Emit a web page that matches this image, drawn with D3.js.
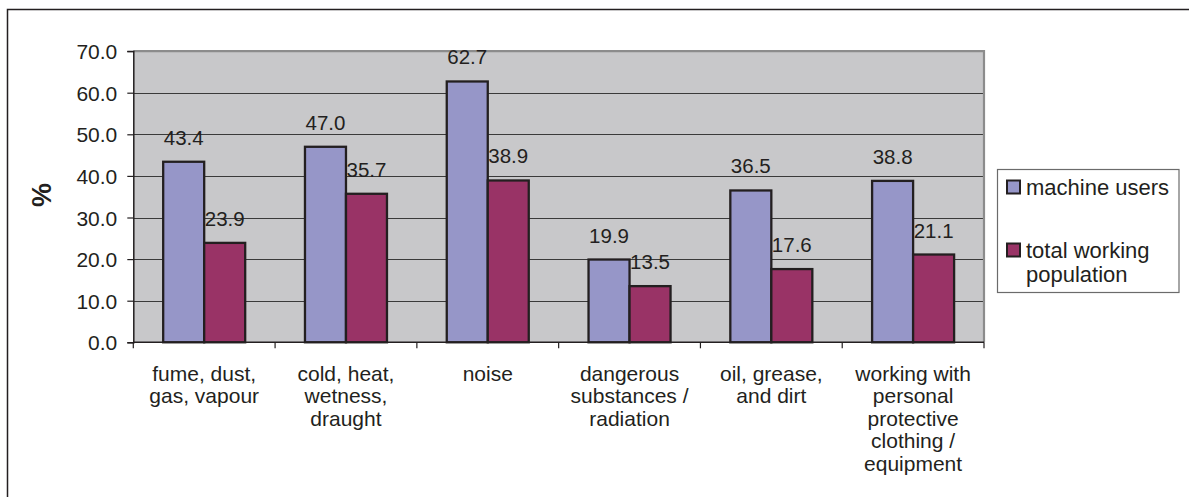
<!DOCTYPE html>
<html>
<head>
<meta charset="utf-8">
<script src="https://cdn.jsdelivr.net/npm/d3@7"></script>
<style>
  html, body { margin: 0; padding: 0; background: #fff; }
  svg { display: block; font-family: "Liberation Sans", Arial, sans-serif; }
</style>
</head>
<body>
<svg id="chart" width="1189" height="497"></svg>
<script>
const categories = [
  ["fume, dust,", "gas, vapour"],
  ["cold, heat,", "wetness,", "draught"],
  ["noise"],
  ["dangerous", "substances /", "radiation"],
  ["oil, grease,", "and dirt"],
  ["working with", "personal", "protective", "clothing /", "equipment"]
];
const seriesNames = ["machine users", "total working population"];
const legendLines = [["machine users"], ["total working", "population"]];
const machineUsers = [43.4, 47.0, 62.7, 19.9, 36.5, 38.8];
const totalWorking = [23.9, 35.7, 38.9, 13.5, 17.6, 21.1];
const yTicks = [0, 10, 20, 30, 40, 50, 60, 70];
const colors = ["#9696c8", "#993366"];

(function () {
const svg = d3.select("#chart");
const ink = "#231f20";
const pLeft = 133.3, pRight = 984, pTop = 51.1, pBottom = 342.3;

// outer frame
svg.append("rect").attr("x", 7.5).attr("y", 9.5).attr("width", 1200).attr("height", 520)
  .attr("fill", "none").attr("stroke", ink).attr("stroke-width", 1.5);

const catIds = categories.map((c, i) => i);
const x0 = d3.scaleBand().domain(catIds).range([pLeft, pRight]).paddingInner(0).paddingOuter(0);
const x1 = d3.scaleBand().domain([0, 1]).range([0, x0.bandwidth()]).paddingInner(0).paddingOuter(0.729);
const y = d3.scaleLinear().domain([0, 70]).range([pBottom, pTop]);

// plot background
svg.append("rect").attr("x", pLeft).attr("y", pTop).attr("width", pRight - pLeft).attr("height", pBottom - pTop)
  .attr("fill", "#c8c8ca");

// gridlines
svg.append("g").selectAll("line").data(yTicks.filter(t => t > 0 && t < 70)).join("line")
  .attr("x1", pLeft).attr("x2", pRight)
  .attr("y1", d => Math.round(y(d)) + 0.5).attr("y2", d => Math.round(y(d)) + 0.5)
  .attr("stroke", "#3a3a3a").attr("stroke-width", 1);

// plot border top/right (gray)
svg.append("path")
  .attr("d", `M${pLeft},${pTop} H${pRight} V${pBottom}`)
  .attr("fill", "none").attr("stroke", "#8c8c8c").attr("stroke-width", 2.2);

// bars
const data = [machineUsers, totalWorking];
const groups = svg.append("g").selectAll("g").data(catIds).join("g")
  .attr("transform", d => `translate(${x0(d)},0)`);
groups.selectAll("rect").data(i => data.map((s, k) => ({ k, v: s[i] }))).join("rect")
  .attr("x", d => x1(d.k)).attr("width", x1.bandwidth())
  .attr("y", d => y(d.v)).attr("height", d => y(0) - y(d.v))
  .attr("fill", d => colors[d.k]).attr("stroke", ink).attr("stroke-width", 2.3);

// data labels
groups.selectAll("text").data(i => data.map((s, k) => ({ k, v: s[i] }))).join("text")
  .attr("x", d => x1(d.k) + x1.bandwidth() / 2)
  .attr("y", d => y(d.v) - 17)
  .attr("text-anchor", "middle").attr("font-size", 20.5).attr("fill", ink)
  .text(d => d.v.toFixed(1));

// y axis
const yAxis = d3.axisLeft(y).tickValues(yTicks).tickSize(6).tickPadding(10)
  .tickFormat(d => d.toFixed(1));
const ya = svg.append("g").attr("transform", `translate(${pLeft},0)`).call(yAxis);
ya.select(".domain").attr("stroke", ink).attr("stroke-width", 1.5);
ya.selectAll(".tick line").attr("stroke", ink).attr("stroke-width", 1.2);
ya.selectAll(".tick text").attr("font-size", 21).attr("fill", ink)
  .attr("font-family", "Liberation Sans, Arial, sans-serif").attr("dy", "0.36em");

// x axis
const xa = svg.append("g").attr("transform", `translate(0,${pBottom})`);
xa.append("line").attr("x1", pLeft).attr("x2", pRight).attr("y1", 0).attr("y2", 0)
  .attr("stroke", ink).attr("stroke-width", 1.5);
const bounds = catIds.map(i => x0(i)).concat([pRight]);
xa.selectAll("line.tk").data(bounds).join("line").attr("class", "tk")
  .attr("x1", d => d).attr("x2", d => d).attr("y1", 0).attr("y2", 6)
  .attr("stroke", ink).attr("stroke-width", 1.2);
const catText = xa.selectAll("text.cat").data(catIds).join("text").attr("class", "cat")
  .attr("x", i => x0(i) + x0.bandwidth() / 2)
  .attr("y", 38.4)
  .attr("text-anchor", "middle").attr("font-size", 21).attr("fill", ink);
catText.selectAll("tspan").data(i => categories[i].map(l => ({ l, x: x0(i) + x0.bandwidth() / 2 }))).join("tspan")
  .attr("x", d => d.x).attr("dy", (d, j) => j === 0 ? 0 : 22.5)
  .text(d => d.l);

// y title
svg.append("text").attr("transform", "translate(51,195) rotate(-90)")
  .attr("text-anchor", "middle").attr("font-size", 27).attr("font-weight", "bold").attr("fill", ink)
  .text("%");

// legend
const lg = svg.append("g");
lg.append("rect").attr("x", 997.5).attr("y", 169.5).attr("width", 181.5).attr("height", 123)
  .attr("fill", "#fff").attr("stroke", "#6b6b6b").attr("stroke-width", 1.2);
const legendY = [180.5, 243.5];
seriesNames.forEach((name, k) => {
  lg.append("rect").attr("x", 1007).attr("y", legendY[k]).attr("width", 13).attr("height", 13)
    .attr("fill", colors[k]).attr("stroke", ink).attr("stroke-width", 2);
  const t = lg.append("text").attr("font-size", 22).attr("fill", ink).attr("y", legendY[k] + 14);
  legendLines[k].forEach((l, j) => {
    t.append("tspan").attr("x", 1026).attr("dy", j === 0 ? 0 : 24).text(l);
  });
});
})();
</script>
</body>
</html>
